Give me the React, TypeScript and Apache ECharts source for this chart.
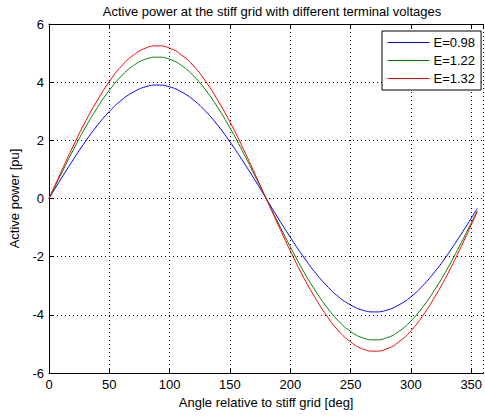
import React, { useEffect, useRef } from "react";
import * as echarts from "echarts";

const angles = [0, 10, 20, 30, 40, 50, 60, 70, 80, 90, 100, 110, 120, 130, 140, 150, 160, 170, 180, 190, 200, 210, 220, 230, 240, 250, 260, 270, 280, 290, 300, 310, 320, 330, 340, 350, 355];
const seriesNames = ["E=0.98", "E=1.22", "E=1.32"];
const powerE098 = [0, 0.68, 1.33, 1.95, 2.51, 2.99, 3.38, 3.66, 3.84, 3.9, 3.84, 3.66, 3.38, 2.99, 2.51, 1.95, 1.33, 0.68, 0, -0.68, -1.33, -1.95, -2.51, -2.99, -3.38, -3.66, -3.84, -3.9, -3.84, -3.66, -3.38, -2.99, -2.51, -1.95, -1.33, -0.68, -0.34];
const powerE122 = [0, 0.84, 1.66, 2.43, 3.12, 3.72, 4.21, 4.57, 4.79, 4.86, 4.79, 4.57, 4.21, 3.72, 3.12, 2.43, 1.66, 0.84, 0, -0.84, -1.66, -2.43, -3.12, -3.72, -4.21, -4.57, -4.79, -4.86, -4.79, -4.57, -4.21, -3.72, -3.12, -2.43, -1.66, -0.84, -0.42];
const powerE132 = [0, 0.91, 1.8, 2.63, 3.37, 4.02, 4.55, 4.93, 5.17, 5.25, 5.17, 4.93, 4.55, 4.02, 3.37, 2.63, 1.8, 0.91, 0, -0.91, -1.8, -2.63, -3.37, -4.02, -4.55, -4.93, -5.17, -5.25, -5.17, -4.93, -4.55, -4.02, -3.37, -2.63, -1.8, -0.91, -0.46];
const seriesColors = ["#0000ff", "#008000", "#ff0000"];

const FONT = "Liberation Sans, Arial, sans-serif";

export default function App() {
  const ref = useRef<HTMLDivElement>(null);
  useEffect(() => {
    if (!ref.current) return;
    const chart = echarts.init(ref.current, undefined, { renderer: "svg" });
    const values = [powerE098, powerE122, powerE132];
    const gridLine = { show: true, lineStyle: { color: "#000", type: [1, 3], width: 1 } };
    chart.setOption({
      animation: false,
      backgroundColor: "#fff",
      color: seriesColors,
      textStyle: { fontFamily: FONT },
      title: {
        text: "Active power at the stiff grid with different terminal voltages",
        left: 267,
        top: 0,
        textAlign: "center",
        textStyle: { fontSize: 13, fontWeight: "normal", color: "#000", fontFamily: FONT },
      },
      legend: {
        orient: "vertical",
        left: 382,
        top: 31,
        itemWidth: 42,
        itemHeight: 13,
        itemGap: 5,
        padding: [5, 6, 5, 5],
        borderColor: "#000",
        borderWidth: 1,
        backgroundColor: "#fff",
        itemStyle: { opacity: 0 },
        lineStyle: { width: 1 },
        textStyle: { fontSize: 13, color: "#000", fontFamily: FONT, padding: [0, 0, 0, -1] },
        data: seriesNames,
      },
      grid: { left: 46, top: 24, width: 443.5, height: 349 },
      xAxis: [
        {
          type: "value",
          min: 0,
          max: 360,
          interval: 50,
          position: "bottom",
          name: "Angle relative to stiff grid [deg]",
          nameLocation: "middle",
          nameGap: 20,
          nameTextStyle: { fontSize: 13, color: "#000", fontFamily: FONT },
          axisLine: { show: true, onZero: false, lineStyle: { color: "#000", width: 1 } },
          axisTick: { show: true, inside: true, length: 4, lineStyle: { color: "#000" } },
          axisLabel: { fontSize: 13, color: "#000", margin: 5, fontFamily: FONT },
          splitLine: gridLine,
        },
        {
          type: "value",
          min: 0,
          max: 360,
          interval: 50,
          position: "top",
          axisLine: { show: true, onZero: false, lineStyle: { color: "#000", width: 1 } },
          axisTick: { show: true, inside: true, length: 4, lineStyle: { color: "#000" } },
          axisLabel: { show: false },
          splitLine: { show: false },
        },
      ],
      yAxis: {
        type: "value",
        min: -6,
        max: 6,
        interval: 2,
        name: "Active power [pu]",
        nameLocation: "middle",
        nameGap: 28,
        nameTextStyle: { fontSize: 13, color: "#000", fontFamily: FONT },
        axisLine: { show: true, onZero: false, lineStyle: { color: "#000", width: 1 } },
        axisTick: { show: true, inside: true, length: 4, lineStyle: { color: "#000" } },
        axisLabel: { fontSize: 13, color: "#000", margin: 5, fontFamily: FONT },
        splitLine: gridLine,
      },
      series: seriesNames.map((name, i) => ({
        name,
        type: "line",
        xAxisIndex: 0,
        smooth: true,
        symbol: "none",
        lineStyle: { color: seriesColors[i], width: 1 },
        itemStyle: { color: seriesColors[i] },
        data: angles.map((a, j) => [a, values[i][j]]),
      })),
    });
    return () => chart.dispose();
  }, []);
  return (
    <div
      ref={ref}
      style={{ position: "absolute", left: 0, top: 0, width: 485, height: 416, overflow: "hidden" }}
    />
  );
}
